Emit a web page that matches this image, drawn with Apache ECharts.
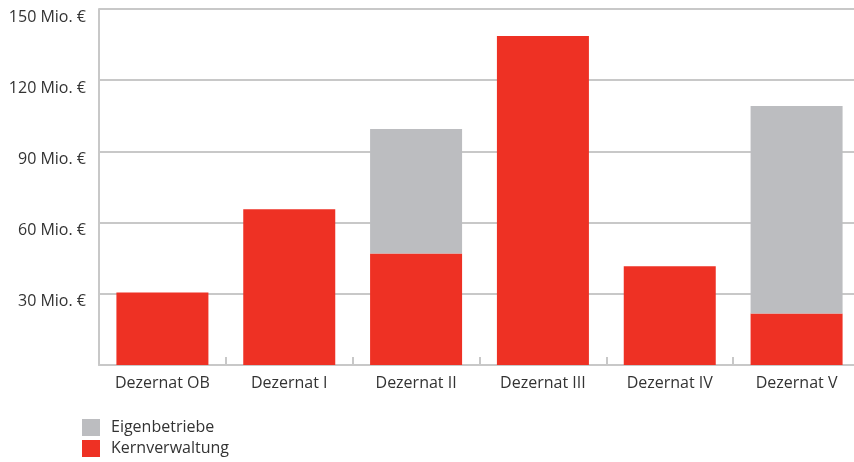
<!DOCTYPE html>
<html><head><meta charset="utf-8">
<script src="https://cdn.jsdelivr.net/npm/echarts@6/dist/echarts.min.js"></script>
<style>html,body{margin:0;padding:0;background:#fff}#c{width:854px;height:462px}</style>
</head><body><div id="c"></div>
<script>
const categories = ['Dezernat OB','Dezernat I','Dezernat II','Dezernat III','Dezernat IV','Dezernat V'];
const kernverwaltung = [30.6, 65.6, 47.0, 138.6, 41.6, 21.7];
const eigenbetriebe = [0, 0, 52.4, 0, 0, 87.4];
const yTicks = [0, 30, 60, 90, 120, 150];
const FONT = '"Open Sans", sans-serif';
const chart = echarts.init(document.getElementById('c'), null, {renderer:'canvas'});
chart.setOption({
  animation: false,
  grid: {left: 99, right: -6, top: 9, bottom: 97, containLabel: false, outerBoundsMode: 'none'},
  legend: {
    orient: 'vertical', left: 82, top: 419, padding: 0, itemWidth: 18, itemHeight: 17, itemGap: 4,
    icon: 'rect', data: ['Eigenbetriebe','Kernverwaltung'],
    textStyle: {fontFamily: FONT, fontSize: 16, color: '#333', padding: [0,0,0,6]}
  },
  xAxis: {
    type: 'category', data: categories,
    axisLine: {lineStyle: {color: '#c8c8c8', width: 2}},
    axisTick: {show: true, inside: true, length: 8, lineStyle: {color: '#c8c8c8', width: 2}},
    axisLabel: {fontFamily: FONT, fontSize: 16, color: '#333', margin: 10}
  },
  yAxis: {
    type: 'value', min: 0, max: 150, interval: 30,
    axisLine: {show: true, lineStyle: {color: '#c8c8c8', width: 2}},
    axisTick: {show: false},
    splitLine: {lineStyle: {color: '#c8c8c8', width: 2}},
    axisLabel: {fontFamily: FONT, fontSize: 16, color: '#333', margin: 13,
      formatter: v => v === 0 ? '' : v + ' Mio. €', verticalAlign: 'top', lineHeight: 16}
  },
  series: [
    {name: 'Kernverwaltung', type: 'bar', stack: 's', data: kernverwaltung, barWidth: 92,
     itemStyle: {color: '#ee3124'}},
    {name: 'Eigenbetriebe', type: 'bar', stack: 's', data: eigenbetriebe, barWidth: 92,
     itemStyle: {color: '#bcbdc0'}}
  ]
});
</script></body></html>
